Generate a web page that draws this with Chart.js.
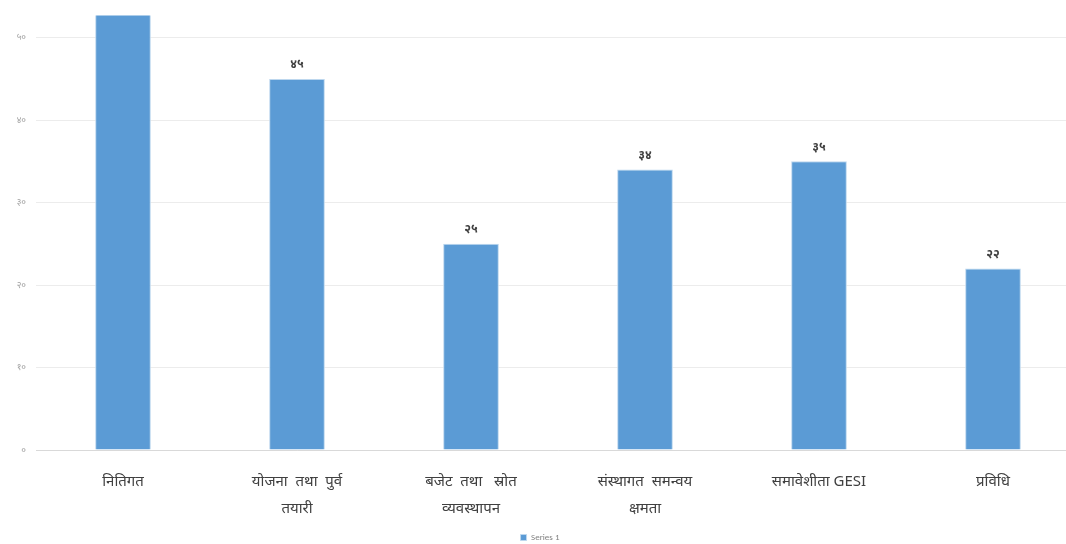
<!DOCTYPE html>
<html>
<head>
<meta charset="utf-8">
<script src="https://cdn.jsdelivr.net/npm/chart.js@4.4.3/dist/chart.umd.min.js"></script>
<style>
  html, body { margin: 0; padding: 0; background: #fff; overflow: hidden; }
  #wrap { width: 1080px; height: 544px; position: relative; }
</style>
</head>
<body>
<div id="wrap"><canvas id="myChart"></canvas></div>
<script>
const labels = [
  'नितिगत',
  ['योजना  तथा  पुर्व', 'तयारी'],
  ['बजेट  तथा   स्रोत', 'व्यवस्थापन'],
  ['संस्थागत  समन्वय', 'क्षमता'],
  'समावेशीता GESI',
  'प्रविधि'
]
const values = [60, 45, 25, 34, 35, 22]
const yTicks = [0, 10, 20, 30, 40, 50]

const digits = '०१२३४५६७८९'
const toNepali = (n) => String(n).replace(/\d/g, d => digits[d])

const barLabels = {
  id: 'barLabels',
  afterDatasetsDraw(chart) {
    const ctx = chart.ctx
    const area = chart.chartArea
    chart.getDatasetMeta(0).data.forEach((bar, i) => {
      const y = bar.y - 8
      if (y < area.top + 6) return
      ctx.save()
      ctx.font = 'bold 12px "Noto Sans", sans-serif'
      ctx.fillStyle = '#404040'
      ctx.textAlign = 'center'
      ctx.textBaseline = 'bottom'
      ctx.fillText(toNepali(values[i]), bar.x, y)
      ctx.restore()
    })
  }
}

const ctx = document.getElementById('myChart')
new Chart(ctx, {
  type: 'bar',
  data: {
    labels: labels,
    datasets: [{
      label: 'Series 1',
      data: values,
      backgroundColor: '#5B9BD5',
      borderColor: '#BDD7EE',
      borderWidth: 1,
      categoryPercentage: 1,
      barPercentage: 0.32
    }]
  },
  options: {
    responsive: true,
    maintainAspectRatio: false,
    animation: false,
    layout: { padding: { top: 0, left: 0, right: 0, bottom: -8 } },
    plugins: {
      legend: {
        position: 'bottom',
        labels: {
          boxWidth: 6,
          boxHeight: 6,
          padding: 1,
          color: '#808080',
          font: { size: 9, family: 'Calibri, "Liberation Sans", sans-serif' }
        }
      },
      tooltip: { enabled: false }
    },
    scales: {
      x: {
        grid: { display: false },
        border: { color: '#d9d9d9' },
        ticks: {
          color: '#404040',
          padding: 10,
          maxRotation: 0,
          autoSkip: false,
          font: { size: 15, family: '"Noto Sans", sans-serif', lineHeight: 1.8 }
        },
        afterFit(scale) { scale.height = 82 }
      },
      y: {
        min: 0,
        max: 52.7,
        grid: { color: '#ececec', drawTicks: false },
        border: { display: false },
        afterBuildTicks(scale) {
          scale.ticks = yTicks.map(v => ({ value: v }))
        },
        ticks: {
          color: '#a0a0a0',
          padding: 10,
          font: { size: 9, family: '"Noto Sans", sans-serif' },
          callback: (v) => toNepali(v)
        },
        afterFit(scale) { scale.width = 36 }
      }
    }
  },
  plugins: [barLabels]
})
</script>
</body>
</html>
